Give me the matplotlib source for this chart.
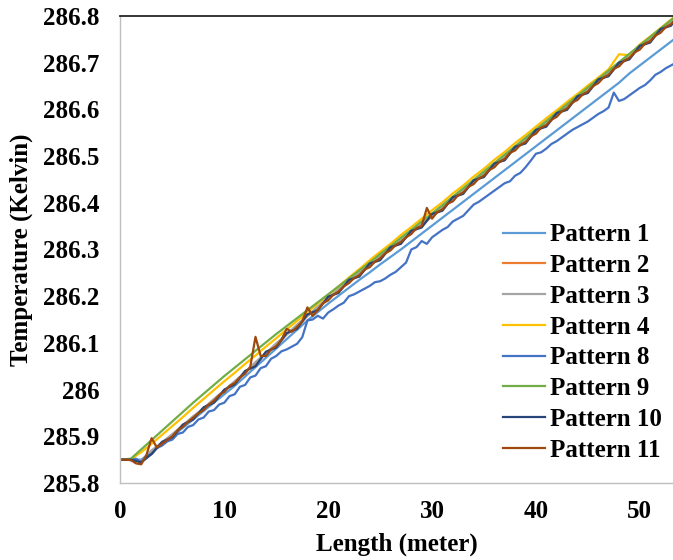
import numpy as np
import matplotlib
matplotlib.use("Agg")
import matplotlib.pyplot as plt

# length along the pipe (m): 1 m steps for the smoother patterns, 0.5 m for the noisy ones
length_m = np.arange(0, 55, 1.0)
length_fine = np.arange(0, 54.5, 0.5)

pattern_1 = [285.850, 285.850, 285.850, 285.866, 285.882, 285.900, 285.918, 285.936, 285.954, 285.972,
             285.990, 286.008, 286.028, 286.048, 286.068, 286.088, 286.108, 286.128, 286.148, 286.166,
             286.184, 286.201, 286.218, 286.235, 286.251, 286.268, 286.284, 286.300, 286.317, 286.334,
             286.351, 286.368, 286.385, 286.402, 286.419, 286.436, 286.453, 286.470, 286.487, 286.504,
             286.521, 286.538, 286.555, 286.572, 286.589, 286.606, 286.623, 286.640, 286.657, 286.677,
             286.694, 286.711, 286.728, 286.745, 286.762]

pattern_2 = [285.850, 285.850, 285.846, 285.866, 285.886, 285.900, 285.924, 285.938, 285.960, 285.975,
             285.999, 286.013, 286.037, 286.054, 286.079, 286.094, 286.118, 286.134, 286.158, 286.173,
             286.196, 286.210, 286.232, 286.245, 286.267, 286.280, 286.302, 286.315, 286.337, 286.350,
             286.372, 286.386, 286.409, 286.422, 286.445, 286.458, 286.481, 286.494, 286.517, 286.530,
             286.553, 286.566, 286.589, 286.602, 286.625, 286.638, 286.661, 286.674, 286.697, 286.710,
             286.733, 286.746, 286.769, 286.782, 286.805]

pattern_3 = [285.850, 285.850, 285.848, 285.870, 285.887, 285.905, 285.923, 285.943, 285.960, 285.980,
             285.998, 286.018, 286.037, 286.059, 286.078, 286.099, 286.118, 286.139, 286.158, 286.178,
             286.196, 286.215, 286.232, 286.250, 286.266, 286.285, 286.301, 286.320, 286.336, 286.355,
             286.372, 286.391, 286.408, 286.427, 286.444, 286.463, 286.480, 286.499, 286.516, 286.535,
             286.552, 286.571, 286.588, 286.607, 286.624, 286.643, 286.660, 286.679, 286.696, 286.715,
             286.732, 286.751, 286.768, 286.787, 286.804]

pattern_4 = [285.850, 285.851, 285.866, 285.884, 285.903, 285.922, 285.941, 285.961, 285.980, 285.999,
             286.018, 286.036, 286.055, 286.073, 286.092, 286.110, 286.129, 286.147, 286.166, 286.184,
             286.203, 286.221, 286.240, 286.258, 286.277, 286.295, 286.312, 286.331, 286.348, 286.366,
             286.384, 286.401, 286.420, 286.437, 286.456, 286.473, 286.492, 286.509, 286.528, 286.545,
             286.563, 286.581, 286.598, 286.616, 286.633, 286.651, 286.668, 286.686, 286.718, 286.716,
             286.739, 286.756, 286.774, 286.792, 286.810]

pattern_8 = [285.850, 285.850, 285.849, 285.852, 285.845, 285.858, 285.862, 285.875, 285.880, 285.889,
             285.893, 285.905, 285.908, 285.920, 285.924, 285.936, 285.940, 285.953, 285.956, 285.968,
             285.972, 285.986, 285.990, 286.006, 286.010, 286.026, 286.030, 286.046, 286.050, 286.066,
             286.072, 286.082, 286.086, 286.092, 286.098, 286.112, 286.148, 286.150, 286.158, 286.152,
             286.165, 286.172, 286.180, 286.186, 286.200, 286.204, 286.210, 286.216, 286.222, 286.230,
             286.232, 286.238, 286.246, 286.252, 286.262, 286.272, 286.300, 286.305, 286.318, 286.312,
             286.326, 286.334, 286.342, 286.348, 286.360, 286.366, 286.372, 286.384, 286.396, 286.402,
             286.410, 286.418, 286.426, 286.434, 286.442, 286.446, 286.458, 286.464, 286.476, 286.490,
             286.505, 286.508, 286.516, 286.526, 286.532, 286.540, 286.548, 286.556, 286.562, 286.568,
             286.574, 286.582, 286.590, 286.596, 286.604, 286.636, 286.618, 286.622, 286.630, 286.638,
             286.646, 286.652, 286.662, 286.674, 286.680, 286.688, 286.694, 286.700, 286.706]

pattern_9 = [285.850, 285.852, 285.872, 285.892, 285.912, 285.932, 285.952, 285.972, 285.991, 286.010,
             286.029, 286.047, 286.065, 286.083, 286.101, 286.119, 286.136, 286.153, 286.170, 286.187,
             286.204, 286.221, 286.238, 286.255, 286.272, 286.290, 286.307, 286.325, 286.342, 286.360,
             286.377, 286.395, 286.413, 286.431, 286.449, 286.467, 286.485, 286.503, 286.521, 286.539,
             286.557, 286.575, 286.593, 286.611, 286.629, 286.647, 286.665, 286.683, 286.701, 286.719,
             286.737, 286.755, 286.773, 286.791, 286.809]

pattern_10 = [285.850, 285.850, 285.844, 285.862, 285.888, 285.898, 285.925, 285.936, 285.962, 285.972,
              286.000, 286.011, 286.040, 286.050, 286.081, 286.090, 286.121, 286.130, 286.161, 286.170,
              286.199, 286.207, 286.235, 286.242, 286.270, 286.277, 286.305, 286.312, 286.340, 286.347,
              286.376, 286.383, 286.412, 286.419, 286.448, 286.455, 286.484, 286.491, 286.520, 286.527,
              286.556, 286.563, 286.592, 286.599, 286.628, 286.635, 286.664, 286.671, 286.700, 286.707,
              286.736, 286.743, 286.772, 286.779, 286.808]

pattern_11 = [285.850, 285.850, 285.849, 285.842, 285.840, 285.860, 285.896, 285.876, 285.884, 285.892,
              285.900, 285.913, 285.920, 285.931, 285.940, 285.949, 285.956, 285.968, 285.976, 285.988,
              285.995, 286.008, 286.014, 286.026, 286.034, 286.049, 286.113, 286.072, 286.072, 286.086,
              286.093, 286.107, 286.130, 286.124, 286.134, 286.146, 286.176, 286.158, 286.170, 286.185,
              286.191, 286.203, 286.210, 286.221, 286.228, 286.239, 286.245, 286.257, 286.262, 286.274,
              286.281, 286.292, 286.298, 286.310, 286.316, 286.326, 286.333, 286.346, 286.350, 286.389,
              286.366, 286.380, 286.386, 286.398, 286.403, 286.416, 286.422, 286.434, 286.440, 286.452,
              286.458, 286.470, 286.476, 286.488, 286.494, 286.507, 286.512, 286.524, 286.530, 286.542,
              286.548, 286.561, 286.566, 286.578, 286.584, 286.596, 286.602, 286.615, 286.620, 286.632,
              286.638, 286.650, 286.656, 286.668, 286.674, 286.687, 286.692, 286.704, 286.710, 286.722,
              286.728, 286.741, 286.746, 286.758, 286.764, 286.776, 286.782, 286.794, 286.800]

series = [
    ("Pattern 1", length_m, pattern_1, "#5B9BD5"),
    ("Pattern 2", length_m, pattern_2, "#ED7D31"),
    ("Pattern 3", length_m, pattern_3, "#A5A5A5"),
    ("Pattern 4", length_m, pattern_4, "#FFC000"),
    ("Pattern 8", length_fine, pattern_8, "#4472C4"),
    ("Pattern 9", length_m, pattern_9, "#70AD47"),
    ("Pattern 10", length_m, pattern_10, "#264478"),
    ("Pattern 11", length_fine, pattern_11, "#9E480E"),
]

plt.rcParams['font.family'] = ['Liberation Serif', 'DejaVu Serif']
plt.rcParams['font.weight'] = 'bold'
fs = 18

fig = plt.figure(figsize=(6.73, 5.6), dpi=100)
ax = fig.add_axes([0.179, 0.1375, 0.821, 0.834])

for name, xs, ys, col in series:
    ax.plot(xs, ys, color=col, lw=1.6, label=name)

ax.set_xlim(0, 53.2)
ax.set_ylim(285.8, 286.8)
ax.set_xticks([0, 10, 20, 30, 40, 50])
yt = [285.8, 285.9, 286.0, 286.1, 286.2, 286.3, 286.4, 286.5, 286.6, 286.7, 286.8]
ax.set_yticks(yt)
ax.set_yticklabels(["%g" % round(v, 1) for v in yt])
ax.tick_params(length=0, labelsize=fs)
ax.tick_params(axis='y', pad=15)
ax.tick_params(axis='x', pad=12)

for s in ['left', 'bottom']:
    ax.spines[s].set_color('#BFBFBF')
    ax.spines[s].set_linewidth(1.0)
ax.spines['right'].set_visible(False)
ax.spines['top'].set_color('#262626')
ax.spines['top'].set_linewidth(1.3)

ax.set_xlabel("Length (meter)", fontsize=fs, fontweight='bold')
ax.set_ylabel("Temperature (Kelvin)", fontsize=fs, fontweight='bold')
ax.xaxis.set_label_coords(0.5, -0.106)
ax.yaxis.set_label_coords(-0.158, 0.5)

ax.legend(loc='upper left', bbox_to_anchor=(0.692, 0.556), frameon=False,
          fontsize=fs, handlelength=1.67, handletextpad=0.2, labelspacing=0.31,
          borderpad=0, borderaxespad=0)

fig.savefig("out.png", dpi=100)
